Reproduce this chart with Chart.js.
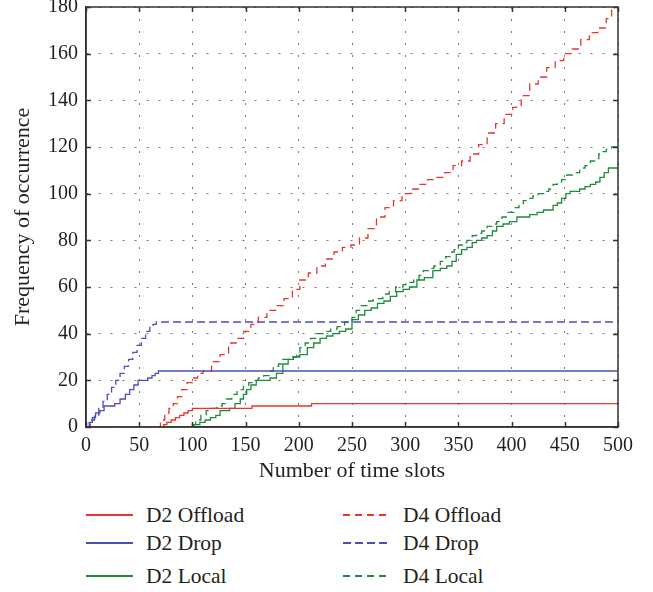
<!DOCTYPE html>
<html>
<head>
<meta charset="utf-8">
<script src="https://cdn.jsdelivr.net/npm/chart.js@4.4.0/dist/chart.umd.min.js"></script>
<style>
  body { margin: 0; background: #fff; }
  #wrap { position: relative; width: 653px; height: 592px; font-family: "Liberation Serif", "Times New Roman", serif; color: #231f20; }
  #chart { position: absolute; left: 0; top: 0; }
  .item { position: absolute; height: 26px; line-height: 26px; font-size: 21.5px; white-space: nowrap; }
  .swatch { position: absolute; left: 0; top: 12px; width: 47px; height: 1.5px; }
  .lbl { position: absolute; left: 60px; top: 0; }
</style>
</head>
<body>
<div id="wrap">
  <canvas id="chart" width="653" height="490"></canvas>
  <div id="legend"></div>
</div>
<script>
// values (time slot, count)
const d2OffloadX = [0, 73, 76, 80, 84, 88, 92, 96, 100, 104, 156, 212, 500];
const d2OffloadY = [0, 1, 2, 3, 4, 5, 6, 7, 8, 8, 9, 10, 10];

const d2DropX = [0, 3, 6, 9, 13, 17, 27, 32, 37, 41, 45, 49, 58, 62, 65, 68, 500];
const d2DropY = [0, 2, 4, 6, 7, 9, 10, 12, 14, 16, 18, 20, 21, 22, 23, 24, 24];

const d2LocalX = [0, 101, 107, 112, 117, 122, 126, 135, 140, 145, 148, 151, 155, 160, 173, 179, 185, 190, 195, 201, 208, 214, 220, 226, 232, 238, 244, 250, 256, 262, 268, 274, 280, 286, 292, 298, 304, 311, 318, 326, 333, 339, 344, 348, 353, 358, 363, 367, 372, 377, 382, 386, 392, 398, 405, 417, 424, 430, 439, 443, 447, 451, 455, 464, 469, 474, 479, 483, 487, 491, 500];
const d2LocalY = [0, 1, 2, 3, 4, 5, 7, 8, 10, 12, 14, 16, 18, 20, 21, 23, 27, 29, 30, 31, 34, 36, 38, 39, 40, 41, 42, 46, 48, 50, 51, 53, 54, 56, 58, 59, 60, 63, 64, 67, 68, 69, 71, 74, 76, 77, 79, 80, 81, 82, 84, 86, 87, 88, 90, 91, 92, 93, 95, 96, 98, 100, 101, 102, 103, 104, 105, 107, 109, 111, 111];

const d4OffloadX = [0, 66, 70, 74, 78, 82, 86, 90, 95, 100, 105, 110, 118, 126, 134, 141, 148, 155, 162, 170, 178, 186, 194, 201, 209, 217, 225, 233, 241, 249, 257, 265, 273, 281, 289, 297, 305, 313, 321, 329, 337, 345, 353, 361, 369, 377, 385, 393, 401, 409, 417, 425, 433, 441, 449, 457, 465, 473, 481, 489, 494, 500];
const d4OffloadY = [0, 0, 3, 6, 8, 10, 13, 16, 19, 21, 23, 24, 28, 31, 36, 38, 41, 44, 47, 50, 52, 55, 59, 63, 66, 69, 72, 75, 77, 78, 81, 85, 90, 94, 97, 100, 102, 104, 106, 107, 109, 112, 114, 117, 121, 126, 130, 134, 137, 142, 147, 150, 154, 157, 160, 162, 166, 169, 171, 175, 180, 183];

const d4DropX = [0, 4, 8, 12, 16, 20, 24, 28, 32, 36, 40, 44, 48, 52, 56, 60, 63, 66, 500];
const d4DropY = [0, 3, 5, 8, 11, 14, 17, 20, 23, 26, 29, 32, 35, 38, 41, 43, 44, 45, 45];

const d4LocalX = [0, 99, 103, 108, 113, 118, 123, 128, 132, 137, 142, 148, 153, 157, 162, 167, 172, 176, 181, 185, 192, 198, 201, 206, 211, 217, 224, 230, 236, 243, 250, 254, 258, 264, 270, 279, 285, 291, 298, 303, 308, 313, 317, 322, 327, 333, 338, 342, 346, 350, 354, 358, 363, 367, 372, 377, 382, 386, 391, 395, 402, 407, 411, 416, 420, 425, 430, 435, 439, 443, 447, 452, 457, 464, 469, 474, 478, 482, 486, 489, 494, 500];
const d4LocalY = [0, 1, 3, 5, 7, 8, 9, 10, 12, 14, 16, 18, 19, 20, 21, 22, 24, 26, 27, 29, 30, 32, 34, 36, 38, 40, 41, 42, 43, 45, 47, 50, 52, 54, 55, 57, 58, 60, 61, 62, 63, 65, 67, 68, 69, 71, 73, 75, 76, 78, 79, 80, 82, 83, 84, 86, 87, 88, 90, 92, 94, 95, 97, 98, 99, 100, 101, 102, 104, 105, 106, 108, 109, 111, 112, 114, 115, 117, 118, 119, 120, 121];

const seriesNames = ['D2 Offload', 'D2 Drop', 'D2 Local', 'D4 Offload', 'D4 Drop', 'D4 Local'];
const xTicks = [0, 50, 100, 150, 200, 250, 300, 350, 400, 450, 500];
const yTicks = [0, 20, 40, 60, 80, 100, 120, 140, 160, 180];

const RED = '#e8362c';
const BLUE = '#4a50b4';
const GREEN = '#1e8a3c';

function pts(xs, ys) {
    return xs.map((x, i) => ({ x: x, y: ys[i] }));
}

function series(label, xs, ys, color, dash) {
    return {
        label: label,
        data: pts(xs, ys),
        borderColor: color,
        backgroundColor: color,
        borderDash: dash,
        borderWidth: 1.3,
        stepped: true,
        pointRadius: 0,
        fill: false
    };
}

const datasets = [
    series(seriesNames[0], d2OffloadX, d2OffloadY, RED, []),
    series(seriesNames[1], d2DropX, d2DropY, BLUE, []),
    series(seriesNames[2], d2LocalX, d2LocalY, GREEN, []),
    series(seriesNames[3], d4OffloadX, d4OffloadY, RED, [7, 5]),
    series(seriesNames[4], d4DropX, d4DropY, BLUE, [8, 4]),
    series(seriesNames[5], d4LocalX, d4LocalY, GREEN, [7, 5])
];

// box round the plot with short inward ticks on all four sides
const framePlugin = {
    id: 'frame',
    afterDatasetsDraw(chart) {
        const { ctx, chartArea: a, scales } = chart;
        ctx.save();
        ctx.strokeStyle = '#333';
        ctx.lineWidth = 1.5;
        ctx.strokeRect(a.left, a.top, a.right - a.left, a.bottom - a.top);
        ctx.beginPath();
        xTicks.forEach(v => {
            const px = Math.round(scales.x.getPixelForValue(v)) + 0.5;
            ctx.moveTo(px, a.bottom); ctx.lineTo(px, a.bottom - 5);
            ctx.moveTo(px, a.top); ctx.lineTo(px, a.top + 5);
        });
        yTicks.forEach(v => {
            const py = Math.round(scales.y.getPixelForValue(v)) + 0.5;
            ctx.moveTo(a.left, py); ctx.lineTo(a.left + 5, py);
            ctx.moveTo(a.right, py); ctx.lineTo(a.right - 5, py);
        });
        ctx.stroke();
        ctx.restore();
    }
};

Chart.defaults.font.family = '"Liberation Serif", "Times New Roman", serif';
Chart.defaults.color = '#231f20';

const chart = new Chart(document.getElementById('chart'), {
    type: 'line',
    data: { datasets: datasets },
    options: {
        responsive: false,
        animation: false,
        layout: { padding: { left: 0, right: 35, top: 7, bottom: 0 } },
        plugins: {
            legend: { display: false },
            tooltip: { enabled: false }
        },
        scales: {
            x: {
                type: 'linear',
                min: 0,
                max: 500,
                afterBuildTicks: s => { s.ticks = xTicks.map(v => ({ value: v })); },
                afterFit: s => { s.height = 63; s.paddingLeft = 0; s.paddingRight = 0; },
                ticks: { padding: 7, maxRotation: 0, font: { size: 20 } },
                grid: { color: '#777', lineWidth: 1, drawTicks: false },
                border: { display: true, color: '#333', width: 1.5, dash: [2, 10] },
                title: { display: true, text: 'Number of time slots', font: { size: 22 }, padding: { top: 0, bottom: 6 } }
            },
            y: {
                min: 0,
                max: 180,
                afterBuildTicks: s => { s.ticks = yTicks.map(v => ({ value: v })); },
                afterFit: s => { s.width = 86; s.paddingTop = 0; s.paddingBottom = 0; },
                ticks: { padding: 8, font: { size: 20 } },
                grid: { color: '#777', lineWidth: 1, drawTicks: false },
                border: { display: true, color: '#333', width: 1.5, dash: [2, 10] },
                title: { display: true, text: 'Frequency of occurrence', font: { size: 22 }, padding: { top: 10, bottom: 0 } }
            }
        }
    },
    plugins: [framePlugin]
});

// legend: two columns, three rows, built from the datasets
const legendLeft = [86, 343];
const legendTop = [502, 530, 563];
const legend = document.getElementById('legend');
chart.data.datasets.forEach((ds, i) => {
    const item = document.createElement('div');
    item.className = 'item';
    item.style.left = legendLeft[Math.floor(i / 3)] + 'px';
    item.style.top = legendTop[i % 3] + 'px';
    const sw = document.createElement('div');
    sw.className = 'swatch';
    if (ds.borderDash.length) {
        const d = ds.borderDash;
        sw.style.background = `repeating-linear-gradient(to right, ${ds.borderColor} 0 ${d[0]}px, transparent ${d[0]}px ${d[0] + d[1]}px)`;
    } else {
        sw.style.background = ds.borderColor;
    }
    const lbl = document.createElement('span');
    lbl.className = 'lbl';
    lbl.textContent = ds.label;
    item.appendChild(sw);
    item.appendChild(lbl);
    legend.appendChild(item);
});
</script>
</body>
</html>
